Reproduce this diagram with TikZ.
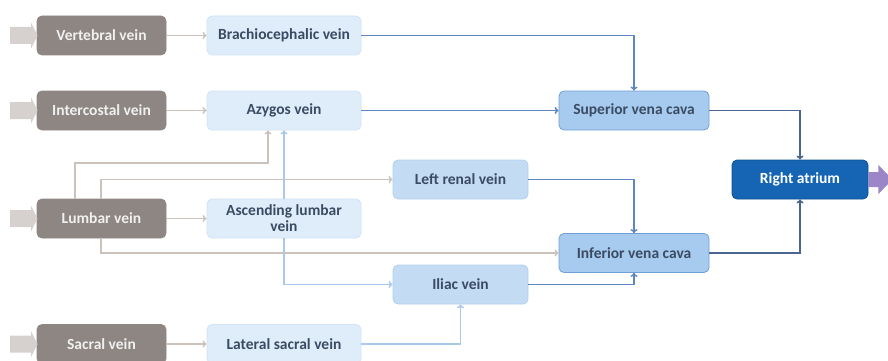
\documentclass[tikz,border=0pt]{standalone}
\usepackage{fontspec}
\setmainfont{Carlito}
\usetikzlibrary{arrows.meta}
\definecolor{srcfill}{HTML}{8E8682}
\definecolor{srcline}{HTML}{CCC2BC}
\definecolor{paleblue}{HTML}{DFEDFA}
\definecolor{paleedge}{HTML}{D0E3F5}
\definecolor{midblue}{HTML}{C3DCF3}
\definecolor{midedge}{HTML}{B2D0EE}
\definecolor{cavafill}{HTML}{A7CBEE}
\definecolor{cavaedge}{HTML}{6F9FD6}
\definecolor{atrium}{HTML}{1565B4}
\definecolor{atriumedge}{HTML}{0F4F94}
\definecolor{labelink}{HTML}{3B4B63}
\definecolor{feedline}{HTML}{5D86C0}
\definecolor{heartline}{HTML}{4A6590}
\definecolor{lightline}{HTML}{A9C9EC}
\definecolor{inflow}{HTML}{D6D1CE}
\definecolor{outflow}{HTML}{9B86C8}
\tikzset{
  box/.style={rectangle, rounded corners=5pt, minimum height=39pt, align=center,
    font=\fontsize{15.5}{16}\selectfont\bfseries, inner sep=2pt, line width=0.8pt},
  srcbox/.style={box, fill=srcfill, draw=srcfill, text=white!94!black, minimum width=129pt},
  palebox/.style={box, fill=paleblue, draw=paleedge, text=labelink, minimum width=154pt},
  midbox/.style={box, fill=midblue, draw=midedge, text=labelink, minimum width=135pt},
  cavabox/.style={box, fill=cavafill, draw=cavaedge, text=labelink, minimum width=150pt},
  atriumbox/.style={box, fill=atrium, draw=atriumedge, text=white, minimum width=136pt},
  tip/.style={-{To[length=4pt,width=7pt]}},
  srcarrow/.style={tip, draw=srcline, line width=1.5pt},
  feedarrow/.style={tip, draw=feedline, line width=1.5pt},
  heartarrow/.style={tip, draw=heartline, line width=1.6pt},
  lightarrow/.style={tip, draw=lightline, line width=1.5pt},
}
\begin{document}
\begin{tikzpicture}[x=1pt,y=-1pt]
\useasboundingbox (0,0) rectangle (888,361);

% where the lumbar branches leave their box
\coordinate (lumbarUp1) at (75,199);
\coordinate (lumbarUp2) at (101,199);
\coordinate (lumbarDown) at (101,238);
\coordinate (azygIn) at (268,163);

% source veins
\node[srcbox] (vert) at (101.5,35.5) {Vertebral vein};
\node[srcbox] (inter) at (101.5,110.5) {Intercostal vein};
\node[srcbox] (lumb) at (101.5,218.5) {Lumbar vein};
\node[srcbox] (sacr) at (101.5,344) {Sacral vein};

% second column
\node[palebox] (brach) at (284,35.5) {Brachiocephalic vein};
\node[palebox] (azyg) at (284,110.5) {Azygos vein};
\node[palebox] (ascl) at (284,218.5) {Ascending lumbar\\vein};
\node[palebox] (lats) at (284,344) {Lateral sacral vein};

% third column
\node[midbox] (renal) at (460.5,179.5) {Left renal vein};
\node[midbox] (iliac) at (460.5,284.5) {Iliac vein};

% venae cavae and atrium
\node[cavabox] (svc) at (634,110.5) {Superior vena cava};
\node[cavabox] (ivc) at (634,253) {Inferior vena cava};
\node[atriumbox] (ra) at (800,179.5) {Right atrium};

% connectors
\draw[srcarrow] (vert) -- (brach);
\draw[srcarrow] (inter) -- (azyg);
\draw[srcarrow] (lumb) -- (ascl);
\draw[srcarrow] (sacr) -- (lats);

\draw[srcarrow] (lumb.north -| lumbarUp1) |- (azygIn) -- (azyg.south -| azygIn);
\draw[srcarrow] (lumb.north -| lumbarUp2) |- (renal.west);
\draw[srcarrow] (lumb.south -| lumbarDown) |- (ivc.west);

\draw[lightarrow] (ascl.north) -- (azyg.south);
\draw[lightarrow] (ascl.south) |- (iliac.west);
\draw[lightarrow] (lats.east) -| (iliac.south);

\draw[feedarrow] (brach.east) -| (svc.north);
\draw[feedarrow] (azyg.east) -- (svc.west);
\draw[feedarrow] (renal.east) -| (ivc.north);
\draw[feedarrow] (iliac.east) -| (ivc.south);

\draw[heartarrow] (svc.east) -| (ra.north);
\draw[heartarrow] (ivc.east) -| (ra.south);

% broad inflow arrows
\foreach \yc in {35.5,110.5,218.5,344}{
  \fill[inflow] (10,\yc-8.5) -- (31,\yc-8.5) -- (31,\yc-13) -- (37.5,\yc)
    -- (31,\yc+13) -- (31,\yc+8.5) -- (10,\yc+8.5) -- cycle;
}
% outflow arrow
\fill[outflow] (ra.east) ++(0,-7.5) -- ++(10,0) -- ++(0,-7) -- ++(14,14.5)
  -- ++(-14,14.5) -- ++(0,-7) -- ++(-10,0) -- cycle;
\end{tikzpicture}
\end{document}
